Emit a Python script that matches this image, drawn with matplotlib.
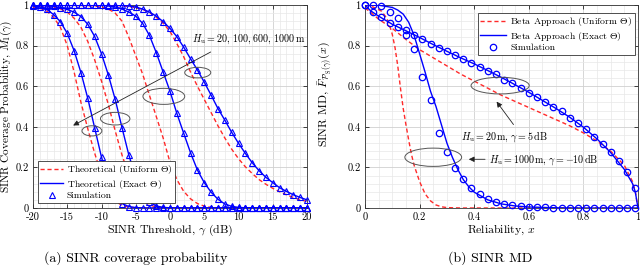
import matplotlib
matplotlib.use("Agg")
import matplotlib.pyplot as plt
from matplotlib.patches import Ellipse
from matplotlib.ticker import FixedLocator, FixedFormatter, MultipleLocator

plt.rcParams['font.family'] = ['cmr10', 'DejaVu Serif']
plt.rcParams['mathtext.fontset'] = 'cm'
plt.rcParams['axes.unicode_minus'] = False
plt.rcParams['axes.formatter.use_mathtext'] = True

# ---------------- data: panel (a) ----------------
gamma_db = list(range(-20, 21))
# exact Theta (blue) for Hu = 1000, 600, 100, 20 m
exact_h1000 = [0.995, 0.99, 0.979, 0.953, 0.918, 0.86, 0.775, 0.667, 0.54, 0.395,
               0.25, 0.135, 0.06, 0.022, 0.007, 0.002, 0.0005, 0, 0, 0,
               0, 0, 0, 0, 0, 0, 0, 0, 0, 0, 0, 0, 0, 0, 0, 0, 0, 0, 0, 0, 0]
exact_h600 = [0.999, 0.998, 0.996, 0.993, 0.987, 0.978, 0.965, 0.943, 0.905, 0.845,
              0.76, 0.655, 0.535, 0.395, 0.26, 0.15, 0.075, 0.03, 0.01, 0.003,
              0.001, 0, 0, 0, 0, 0, 0, 0, 0, 0, 0, 0, 0, 0, 0, 0, 0, 0, 0, 0, 0]
exact_h100 = [1.0, 1.0, 1.0, 1.0, 0.9995, 0.9995, 0.999, 0.999, 0.999, 0.999,
              0.998, 0.995, 0.99, 0.98, 0.965, 0.945, 0.91, 0.85, 0.765, 0.67,
              0.575, 0.466, 0.368, 0.272, 0.187, 0.125, 0.078, 0.043, 0.02, 0.008,
              0.003, 0.001, 0, 0, 0, 0, 0, 0, 0, 0, 0]
exact_h20 = [1.0, 1.0, 1.0, 1.0, 1.0, 1.0, 1.0, 1.0, 1.0, 1.0,
             1.0, 1.0, 0.999, 0.998, 0.995, 0.99, 0.98, 0.965, 0.945, 0.918,
             0.885, 0.844, 0.792, 0.735, 0.68, 0.62, 0.556, 0.49, 0.433, 0.373,
             0.319, 0.269, 0.223, 0.184, 0.151, 0.125, 0.10, 0.082, 0.065, 0.052, 0.04]
# uniform Theta (red dashed)
unif_h1000 = [0.99, 0.985, 0.97, 0.94, 0.89, 0.80, 0.67, 0.52, 0.39, 0.27,
              0.165, 0.085, 0.035, 0.012, 0.004, 0.001, 0, 0, 0, 0,
              0, 0, 0, 0, 0, 0, 0, 0, 0, 0, 0, 0, 0, 0, 0, 0, 0, 0, 0, 0, 0]
unif_h600 = [0.998, 0.996, 0.993, 0.988, 0.98, 0.965, 0.935, 0.89, 0.82, 0.73,
             0.625, 0.51, 0.38, 0.26, 0.16, 0.085, 0.04, 0.015, 0.005, 0.001,
             0, 0, 0, 0, 0, 0, 0, 0, 0, 0, 0, 0, 0, 0, 0, 0, 0, 0, 0, 0, 0]
unif_h100 = [1.0, 1.0, 1.0, 0.999, 0.999, 0.998, 0.998, 0.997, 0.996, 0.995,
             0.99, 0.98, 0.96, 0.92, 0.84, 0.75, 0.66, 0.555, 0.45, 0.345,
             0.225, 0.14, 0.082, 0.045, 0.022, 0.009, 0.003, 0.001, 0, 0,
             0, 0, 0, 0, 0, 0, 0, 0, 0, 0, 0]
unif_h20 = [1.0, 1.0, 1.0, 1.0, 1.0, 1.0, 1.0, 1.0, 1.0, 1.0,
            1.0, 0.999, 0.998, 0.996, 0.993, 0.987, 0.978, 0.963, 0.94, 0.91,
            0.87, 0.81, 0.745, 0.67, 0.60, 0.535, 0.47, 0.405, 0.345, 0.29,
            0.243, 0.203, 0.17, 0.14, 0.117, 0.097, 0.08, 0.065, 0.052, 0.041, 0.032]
# simulation (triangles) follow the exact curves
sim_h1000 = exact_h1000
sim_h600 = exact_h600
sim_h100 = exact_h100
sim_h20 = exact_h20

a_xticks = [-20, -15, -10, -5, 0, 5, 10, 15, 20]
a_xticklabels = ['-20', '-15', '-10', '-5', '0', '5', '10', '15', '20']
yticks = [0, 0.2, 0.4, 0.6, 0.8, 1]
yticklabels = ['0', '0.2', '0.4', '0.6', '0.8', '1']

# ---------------- data: panel (b) ----------------
rel_sim = [0.0, 0.03, 0.06, 0.09, 0.12, 0.15, 0.18, 0.21, 0.24, 0.27, 0.30, 0.33,
           0.36, 0.39, 0.42, 0.45, 0.48, 0.51, 0.54, 0.57, 0.60, 0.63, 0.66, 0.69,
           0.72, 0.75, 0.78, 0.81, 0.84, 0.87, 0.90, 0.93, 0.96, 0.99]
md_sim_h20 = [1.0, 0.966, 0.94, 0.91, 0.892, 0.876, 0.853, 0.832, 0.81, 0.79, 0.772, 0.753,
              0.734, 0.715, 0.695, 0.677, 0.658, 0.633, 0.615, 0.59, 0.567, 0.546, 0.52, 0.497,
              0.476, 0.445, 0.42, 0.388, 0.35, 0.315, 0.277, 0.23, 0.176, 0.098]
md_sim_h1000 = [1.0, 1.0, 0.995, 0.967, 0.938, 0.85, 0.785, 0.645, 0.53, 0.37, 0.277, 0.196,
                0.142, 0.10, 0.07, 0.042, 0.028, 0.02, 0.013, 0.01, 0.006, 0.004, 0.003, 0.002,
                0.002, 0.001, 0.001, 0.001, 0.0, 0.0, 0.0, 0.0, 0.0, 0.0]

rel_h20 = [0.0, 0.02, 0.05, 0.1, 0.15, 0.2, 0.25, 0.3, 0.35, 0.4, 0.45, 0.5, 0.55, 0.6,
           0.65, 0.7, 0.75, 0.8, 0.85, 0.9, 0.95, 0.98, 0.99, 1.0]
md_exact_h20 = [1.0, 0.972, 0.945, 0.905, 0.873, 0.84, 0.805, 0.772, 0.74, 0.71, 0.677, 0.643,
                0.607, 0.57, 0.53, 0.49, 0.447, 0.398, 0.34, 0.273, 0.19, 0.12, 0.08, 0.0]
md_unif_h20 = [0.985, 0.965, 0.93, 0.885, 0.83, 0.78, 0.74, 0.70, 0.66, 0.625, 0.59, 0.555,
               0.525, 0.495, 0.465, 0.435, 0.405, 0.37, 0.33, 0.28, 0.21, 0.13, 0.08, 0.0]

rel_h1000 = [0.0, 0.05, 0.1, 0.12, 0.14, 0.16, 0.18, 0.2, 0.22, 0.24, 0.26, 0.28, 0.3,
             0.32, 0.34, 0.36, 0.38, 0.4, 0.45, 0.5, 0.55, 0.6, 0.7, 0.8, 1.0]
md_exact_h1000 = [1.0, 0.999, 0.988, 0.975, 0.955, 0.915, 0.85, 0.76, 0.67, 0.575, 0.50, 0.41,
                  0.32, 0.25, 0.19, 0.14, 0.105, 0.078, 0.04, 0.02, 0.01, 0.005, 0.001, 0.0, 0.0]
rel_unif_h1000 = [0.0, 0.03, 0.06, 0.08, 0.09, 0.10, 0.11, 0.12, 0.13, 0.14, 0.15, 0.16,
                  0.17, 0.18, 0.19, 0.20, 0.22, 0.24, 0.26, 0.28, 0.30, 0.35, 1.0]
md_unif_h1000 = [1.0, 0.99, 0.97, 0.935, 0.90, 0.855, 0.79, 0.70, 0.59, 0.49, 0.41, 0.335,
                 0.265, 0.21, 0.17, 0.13, 0.07, 0.035, 0.015, 0.006, 0.002, 0.0, 0.0]

b_xticks = [0, 0.2, 0.4, 0.6, 0.8, 1]
b_xticklabels = ['0', '0.2', '0.4', '0.6', '0.8', '1']

# ---------------- styling ----------------
RED = '#ff2a2a'
BLUE = '#0000ff'
TICK_FS = 7.5
LABEL_FS = 8.5
LEG_FS = 7
ANN_FS = 7.2

fig = plt.figure(figsize=(6.4, 2.65), dpi=100)
axA = fig.add_axes([33 / 640, 57 / 265, 274 / 640, 203 / 265])
axB = fig.add_axes([365 / 640, 57 / 265, 273 / 640, 203 / 265])


def style_axes(ax, xminor, yminor):
    ax.xaxis.set_minor_locator(MultipleLocator(xminor))
    ax.yaxis.set_minor_locator(MultipleLocator(yminor))
    ax.grid(True, which='major', color='#d0d0d0', lw=0.6, zorder=0)
    ax.grid(True, which='minor', color='#e8e8e8', lw=0.5, zorder=0)
    ax.set_axisbelow(True)
    ax.tick_params(which='both', direction='in', top=True, right=True,
                   labelsize=TICK_FS, pad=3)
    ax.tick_params(which='major', length=3, width=0.5)
    ax.tick_params(which='minor', length=0)
    for s in ax.spines.values():
        s.set_linewidth(0.6)
        s.set_color('#333333')


# ---- panel (a) ----
ax = axA
for unif in (unif_h1000, unif_h600, unif_h100, unif_h20):
    ax.plot(gamma_db, unif, ls=(0, (3, 2)), color=RED, lw=1.0, zorder=3)
for ex in (exact_h1000, exact_h600, exact_h100, exact_h20):
    ax.plot(gamma_db, ex, ls='-', color=BLUE, lw=1.0, zorder=3)
for sim in (sim_h1000, sim_h600, sim_h100, sim_h20):
    ax.plot(gamma_db, sim, ls='none', marker='^', ms=4.5, mfc='none', mec=BLUE,
            mew=0.8, zorder=4, clip_on=False)
ax.set_xlim(-20, 20)
ax.set_ylim(0, 1)
ax.xaxis.set_major_locator(FixedLocator(a_xticks))
ax.xaxis.set_major_formatter(FixedFormatter(a_xticklabels))
ax.yaxis.set_major_locator(FixedLocator(yticks))
ax.yaxis.set_major_formatter(FixedFormatter(yticklabels))
style_axes(ax, 1, 0.04)
ax.set_xlabel(r'SINR Threshold, $\gamma$ (dB)', fontsize=LABEL_FS, labelpad=1)
ax.set_ylabel(r'SINR Coverage Probability, $M_1(\gamma)$', fontsize=8.1)
ax.yaxis.set_label_coords(-0.070, 0.5)

for (cx, cy, w, h) in [(-11.4, 0.38, 2.9, 0.05), (-8.0, 0.44, 4.3, 0.062),
                       (-0.9, 0.55, 6.1, 0.079), (4.05, 0.667, 3.8, 0.052)]:
    ax.add_patch(Ellipse((cx, cy), w, h, fill=False, ec='#555555', lw=0.7, zorder=5))
ax.annotate('', xy=(-14.5, 0.40), xytext=(6.3, 0.775),
            arrowprops=dict(arrowstyle='-|>', color='#222222', lw=0.6,
                            mutation_scale=8), zorder=6)
ax.text(19.8, 0.83, r'$H_{\mathrm{u}} = 20,\, 100,\, 600,\, 1000\,\mathrm{m}$',
        fontsize=ANN_FS, ha='right', va='center', zorder=6)

h1, = ax.plot([], [], ls=(0, (3, 2)), color=RED, lw=1.0)
h2, = ax.plot([], [], ls='-', color=BLUE, lw=1.0)
h3, = ax.plot([], [], ls='none', marker='^', ms=4.5, mfc='none', mec=BLUE, mew=0.8)
legA = ax.legend([h1, h2, h3],
                 [r'Theoretical (Uniform $\Theta$)', r'Theoretical (Exact $\Theta$)', 'Simulation'],
                 loc='lower left', bbox_to_anchor=(0.018, 0.025), borderaxespad=0,
                 fontsize=LEG_FS, fancybox=False, framealpha=1, edgecolor='#333333',
                 handlelength=2.3, handletextpad=0.4, labelspacing=0.12,
                 borderpad=0.25)
legA.get_frame().set_linewidth(0.6)
legA.set_zorder(10)

# ---- panel (b) ----
ax = axB
ax.plot(rel_h20, md_unif_h20, ls=(0, (3, 2)), color=RED, lw=1.0, zorder=3)
ax.plot(rel_unif_h1000, md_unif_h1000, ls=(0, (3, 2)), color=RED, lw=1.0, zorder=3)
ax.plot(rel_h20, md_exact_h20, ls='-', color=BLUE, lw=1.0, zorder=3)
ax.plot(rel_h1000, md_exact_h1000, ls='-', color=BLUE, lw=1.0, zorder=3)
ax.plot(rel_sim, md_sim_h20, ls='none', marker='o', ms=4.6, mfc='none', mec=BLUE,
        mew=0.9, zorder=4, clip_on=False)
ax.plot(rel_sim, md_sim_h1000, ls='none', marker='o', ms=4.6, mfc='none', mec=BLUE,
        mew=0.9, zorder=4, clip_on=False)
ax.set_xlim(0, 1)
ax.set_ylim(0, 1)
ax.xaxis.set_major_locator(FixedLocator(b_xticks))
ax.xaxis.set_major_formatter(FixedFormatter(b_xticklabels))
ax.yaxis.set_major_locator(FixedLocator(yticks))
ax.yaxis.set_major_formatter(FixedFormatter(yticklabels))
style_axes(ax, 0.05, 0.04)
ax.set_xlabel(r'Reliability, $x$', fontsize=LABEL_FS, labelpad=1)
ax.set_ylabel(r'SINR MD, $\bar{F}_{\mathcal{P}_{\mathrm{S}}(\gamma)}(x)$', fontsize=LABEL_FS)
ax.yaxis.set_label_coords(-0.112, 0.56)

ax.add_patch(Ellipse((0.495, 0.603), 0.213, 0.082, fill=False, ec='#555555', lw=0.7, zorder=5))
ax.add_patch(Ellipse((0.25, 0.25), 0.208, 0.09, fill=False, ec='#555555', lw=0.7, zorder=5))
ax.annotate('', xy=(0.476, 0.535), xytext=(0.55, 0.40),
            arrowprops=dict(arrowstyle='-|>', color='#222222', lw=0.6, mutation_scale=8), zorder=6)
ax.annotate('', xy=(0.37, 0.24), xytext=(0.45, 0.24),
            arrowprops=dict(arrowstyle='-|>', color='#222222', lw=0.6, mutation_scale=8), zorder=6)
ax.text(0.51, 0.353, r'$H_{\mathrm{u}} = 20\,\mathrm{m},\, \gamma = 5\,\mathrm{dB}$',
        fontsize=ANN_FS, ha='center', va='center', zorder=6)
ax.text(0.455, 0.24, r'$H_{\mathrm{u}} = 1000\,\mathrm{m},\, \gamma = -10\,\mathrm{dB}$',
        fontsize=ANN_FS, ha='left', va='center', zorder=6)

g1, = ax.plot([], [], ls=(0, (3, 2)), color=RED, lw=1.0)
g2, = ax.plot([], [], ls='-', color=BLUE, lw=1.0)
g3, = ax.plot([], [], ls='none', marker='o', ms=4.6, mfc='none', mec=BLUE, mew=0.9)
legB = ax.legend([g1, g2, g3],
                 [r'Beta Approach (Uniform $\Theta$)', r'Beta Approach (Exact $\Theta$)', 'Simulation'],
                 loc='upper right', bbox_to_anchor=(0.989, 0.961), borderaxespad=0,
                 fontsize=LEG_FS, fancybox=False, framealpha=1, edgecolor='#333333',
                 handlelength=2.6, handletextpad=0.5, labelspacing=0.12,
                 borderpad=0.25)
legB.get_frame().set_linewidth(0.6)
legB.set_zorder(10)

# captions
fig.text(136 / 640, 1 - 258 / 265, '(a) SINR coverage probability', fontsize=10,
         ha='center', va='center')
fig.text(490 / 640, 1 - 258 / 265, '(b) SINR MD', fontsize=10, ha='center', va='center')

fig.savefig('out.png', dpi=100)
